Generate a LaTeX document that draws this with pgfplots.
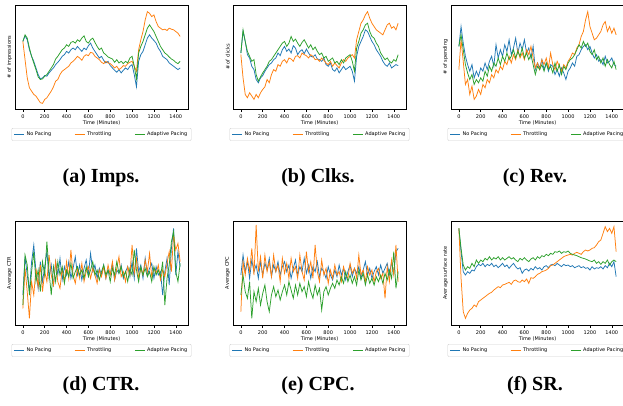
\documentclass[border=0pt]{standalone}
\usepackage{pgfplots}
\pgfplotsset{compat=1.18}
\usepackage{pgfplotstable}
\usepackage{fontspec}
\setmainfont{DejaVu Sans}
\newfontfamily\capfont{Liberation Serif}
\definecolor{tblue}{HTML}{1F77B4}
\definecolor{torange}{HTML}{FF7F0E}
\definecolor{tgreen}{HTML}{2CA02C}

\pgfplotstableread{
t np th ap
0 125 125 125
20 108 180 105
40 120 235 115
60 150 265 145
80 170 275 170
100 185 285 190
120 205 290 210
140 225 300 232
160 238 310 240
180 235 312 238
200 228 300 230
220 230 295 225
240 220 285 215
260 212 275 205
280 205 262 195
300 195 245 178
320 188 240 170
340 180 225 160
360 170 215 150
380 165 210 145
400 155 205 135
420 160 200 140
440 150 190 128
460 145 185 125
480 150 178 130
500 140 170 120
520 148 175 125
540 155 182 115
560 145 170 108
580 150 165 125
600 138 168 130
620 130 158 120
640 145 160 115
660 155 170 128
680 165 175 140
700 175 180 150
720 170 188 145
740 182 192 160
760 190 185 165
780 185 190 172
800 198 192 175
820 205 198 178
840 212 205 188
860 218 200 180
880 210 210 190
900 220 205 185
920 212 198 192
940 205 200 185
960 210 192 190
980 200 188 175
1000 195 185 170
1020 225 200 200
1040 262 215 238
1060 185 150 160
1080 165 120 140
1100 155 95 125
1120 135 60 105
1140 115 35 85
1160 105 40 75
1180 115 50 85
1200 122 45 95
1220 130 65 110
1240 145 80 125
1260 155 85 140
1280 170 90 150
1300 175 88 160
1320 180 92 165
1340 190 85 172
1360 195 88 178
1380 200 90 182
1400 205 95 188
1420 210 100 192
1440 205 110 185
}\tabA

\pgfplotstableread{
t np th ap
0 160 165 160
20 95 235 90
40 125 285 125
60 165 295 155
80 175 280 170
100 200 290 185
120 210 300 180
140 240 285 225
160 250 295 245
180 235 280 232
200 228 270 220
220 215 262 210
240 205 240 200
260 195 250 185
280 190 225 180
300 180 210 170
320 175 215 160
340 160 195 150
360 168 200 140
380 150 185 130
400 140 180 125
420 155 190 140
440 148 175 130
460 160 178 110
480 138 185 125
500 145 170 118
520 165 168 130
540 155 175 140
560 150 160 128
580 162 165 120
600 148 168 132
620 160 175 145
640 170 165 135
660 172 170 150
680 165 180 142
700 178 178 155
720 180 185 165
740 185 175 160
760 175 182 175
780 195 190 170
800 200 195 185
820 190 185 180
840 210 200 175
860 215 190 190
880 205 198 185
900 220 205 195
920 210 190 180
940 200 180 190
960 210 185 175
980 205 175 170
1000 200 170 165
1020 215 165 185
1040 245 175 215
1060 170 120 145
1080 140 95 125
1100 125 70 100
1120 110 60 90
1140 90 45 75
1160 95 35 70
1180 110 55 95
1200 125 70 110
1220 135 80 115
1240 150 90 130
1260 160 95 140
1280 170 100 160
1300 185 105 170
1320 195 90 180
1340 200 75 175
1360 190 70 185
1380 205 85 190
1400 200 80 180
1420 195 90 185
1440 198 70 165
}\tabB

\pgfplotstableread{
t np th ap
0 140 210 140
20 80 120 105
40 130 185 150
60 170 255 195
80 195 240 220
100 215 285 240
120 195 260 225
140 235 300 255
160 215 290 240
180 230 270 250
200 205 285 235
220 215 255 245
240 190 265 215
260 210 240 230
280 185 250 200
300 170 225 215
320 200 235 190
340 135 210 200
360 175 220 175
380 150 200 195
400 170 210 170
420 135 185 185
440 155 195 160
460 120 170 180
480 165 190 170
500 145 165 150
520 115 180 175
540 160 150 155
560 130 175 170
580 150 160 145
600 120 180 175
620 160 150 160
640 145 165 180
660 175 140 165
680 140 175 195
700 210 205 225
720 190 190 200
740 205 210 210
760 180 180 195
780 210 195 215
800 190 175 190
820 215 205 210
840 195 160 200
860 200 195 220
880 225 210 190
900 210 185 215
920 230 200 195
940 205 215 225
960 220 195 200
980 240 205 210
1000 215 185 190
1020 205 175 180
1040 190 160 175
1060 200 165 165
1080 170 145 150
1100 165 135 135
1120 150 110 145
1140 140 95 125
1160 135 60 140
1180 150 35 130
1200 140 80 155
1220 160 100 165
1240 175 120 150
1260 165 115 180
1280 185 105 170
1300 180 95 190
1320 195 75 175
1340 170 65 200
1360 190 95 180
1380 185 80 195
1400 175 100 205
1420 195 85 185
1440 200 105 210
}\tabC

\pgfplotstableread{
t np th ap
0 300 340 330
20 185 220 180
40 240 290 210
60 290 370 300
80 200 260 230
100 150 300 170
120 230 220 260
140 280 275 225
160 200 210 290
180 260 290 200
200 215 230 240
220 170 260 140
240 250 180 230
260 210 240 300
280 275 270 215
300 200 200 260
320 240 260 200
340 190 280 240
360 255 220 215
380 215 260 265
400 240 200 225
420 200 250 245
440 250 165 205
460 220 240 250
480 185 265 230
500 240 220 215
520 210 250 240
540 255 205 225
560 220 260 250
580 195 230 215
600 240 215 245
620 175 250 225
640 230 220 200
660 210 240 240
680 250 265 225
700 220 225 255
720 240 245 230
740 210 215 210
760 250 250 240
780 225 210 225
800 240 240 260
820 205 200 220
840 255 255 240
860 225 220 200
880 235 185 235
900 210 245 215
920 250 230 245
940 230 260 230
960 215 215 260
980 245 240 220
1000 200 150 240
1020 250 235 165
1040 160 190 225
1060 230 250 260
1080 210 220 215
1100 250 240 240
1120 190 195 220
1140 240 230 245
1160 220 175 230
1180 205 245 260
1200 250 220 215
1220 215 235 240
1240 240 210 225
1260 230 255 245
1280 300 225 200
1300 230 245 330
1320 190 205 250
1340 270 170 210
1360 160 230 140
1380 100 120 110
1400 240 165 230
1420 170 145 260
1440 215 200 205
}\tabD

\pgfplotstableread{
t np th ap
0 240 350 300
20 180 200 240
40 230 240 290
60 200 190 310
80 250 230 260
100 195 160 370
120 230 240 290
140 210 90 320
160 250 230 280
180 200 185 330
200 240 250 295
220 205 180 270
240 225 230 320
260 190 200 350
280 245 245 300
300 210 180 275
320 230 230 305
340 200 210 285
360 240 260 315
380 215 190 290
400 200 235 270
420 230 205 300
440 210 250 260
460 250 190 285
480 220 230 310
500 195 215 270
520 240 250 300
540 215 180 265
560 230 230 290
580 190 255 275
600 235 170 305
620 210 230 260
640 250 200 290
660 215 250 310
680 230 150 270
700 200 230 300
720 245 260 280
740 220 195 345
760 230 240 290
780 250 220 275
800 215 265 300
820 240 225 280
840 255 250 265
860 225 210 280
880 245 240 255
900 210 230 270
920 240 260 245
940 220 215 265
960 255 240 230
980 230 250 260
1000 210 205 240
1020 245 235 265
1040 220 220 245
1060 235 250 270
1080 215 180 225
1100 250 240 255
1120 225 225 235
1140 200 260 270
1160 240 215 240
1180 220 240 265
1200 250 225 250
1220 230 260 270
1240 215 230 245
1260 240 220 260
1280 210 250 240
1300 235 235 265
1320 220 310 235
1340 205 215 255
1360 240 260 225
1380 200 195 250
1400 235 240 170
1420 170 150 280
1440 160 260 230
}\tabE

\pgfplotstableread{
t np th ap
0 100 100 100
20 170 250 160
40 230 350 210
60 240 370 225
80 230 355 215
100 235 345 220
120 225 340 205
140 228 330 215
160 215 335 195
180 208 320 205
200 212 315 195
220 205 310 200
240 215 305 190
260 208 300 195
280 212 295 185
300 205 292 195
320 215 285 188
340 210 280 192
360 218 275 185
380 212 278 195
400 205 270 188
420 215 268 195
440 210 265 190
460 220 262 185
480 212 268 192
500 205 258 188
520 215 255 195
540 222 260 200
560 218 262 190
580 235 255 195
600 225 260 188
620 222 252 195
640 228 265 200
660 220 248 192
680 225 250 188
700 215 245 195
720 222 238 185
740 218 235 190
760 225 230 182
780 215 228 185
800 212 225 178
820 218 220 182
840 210 212 175
860 208 210 178
880 212 205 170
900 205 200 172
920 210 195 168
940 215 190 175
960 208 185 170
980 212 182 172
1000 210 180 168
1020 215 178 175
1040 212 180 178
1060 218 175 180
1080 215 172 182
1100 212 175 185
1120 218 178 188
1140 215 170 190
1160 220 165 192
1180 218 168 195
1200 225 165 198
1220 215 160 200
1240 222 158 195
1260 218 150 205
1280 220 140 200
1300 215 135 208
1320 222 115 200
1340 212 95 205
1360 218 110 195
1380 205 100 210
1400 215 115 200
1420 200 95 195
1440 245 170 200
}\tabF

\pgfplotsset{
  panel/.style={
    scale only axis, width=173pt, height=104pt,
    xmin=-72, xmax=1512,
    xtick={0,200,400,600,800,1000,1200,1400},
    ytick=\empty,
    y dir=reverse,
    /pgf/number format/assume math mode=true,
    /pgf/number format/1000 sep={},
    tick label style={font=\fontsize{5}{6}\selectfont},
    xlabel={Time (Minutes)},
    every axis x label/.style={at={(axis description cs:0.5,0)}, anchor=center, yshift=-13.5pt, font=\fontsize{5}{6}\selectfont},
    every axis y label/.style={at={(axis description cs:0,0.5)}, rotate=90, anchor=south, inner sep=0pt, yshift=3pt, font=\fontsize{5}{6}\selectfont},
    axis line style={line width=0.6pt},
    xtick align=outside, xtick pos=bottom, major tick length=2.5pt,
    tick style={black, line width=0.5pt},
    legend columns=3,
    legend style={at={(0.5,-0.183)}, anchor=north, draw=black!18, rounded corners=1pt,
      font=\fontsize{5}{6}\selectfont, inner xsep=2pt, inner ysep=1.5pt,
      /tikz/every even column/.append style={column sep=21pt}},
    legend image code/.code={\draw[##1, line width=0.8pt] (0pt,0pt) -- (10pt,0pt);},
    every axis plot/.append style={line width=0.75pt, mark=none},
  },
  toprow/.style={panel, ymin=15, ymax=329},
  botrow/.style={panel, ymin=78, ymax=390},
}

\newcommand{\threeplots}[1]{%
  \addplot[tblue] table[x=t, y=np] {#1};
  \addplot[torange] table[x=t, y=th] {#1};
  \addplot[tgreen] table[x=t, y=ap] {#1};
  \legend{No Pacing, Throttling, Adaptive Pacing}
}

\begin{document}
\begin{tikzpicture}
\fill[white] (0pt,0pt) rectangle (623pt,405pt);
\useasboundingbox (0pt,0pt) rectangle (623pt,405pt);

\begin{axis}[toprow, at={(15pt,296pt)}, anchor=south west, ylabel={\# of impressions}]
\threeplots{\tabA}
\end{axis}
\begin{axis}[toprow, at={(233pt,296pt)}, anchor=south west, ylabel={\# of clicks}]
\threeplots{\tabB}
\end{axis}
\begin{axis}[toprow, at={(451pt,296pt)}, anchor=south west, ylabel={\# of spending}]
\threeplots{\tabC}
\end{axis}

\begin{axis}[botrow, at={(15pt,80pt)}, anchor=south west, ylabel={Average CTR}]
\threeplots{\tabD}
\end{axis}
\begin{axis}[botrow, at={(233pt,80pt)}, anchor=south west, ylabel={Average CPC}]
\threeplots{\tabE}
\end{axis}
\begin{axis}[botrow, at={(451pt,80pt)}, anchor=south west, ylabel={Average surface rate}]
\threeplots{\tabF}
\end{axis}

\node[font=\capfont\bfseries\fontsize{20}{22}\selectfont] at (101pt,227pt) {(a) Imps.};
\node[font=\capfont\bfseries\fontsize{20}{22}\selectfont] at (318pt,227pt) {(b) Clks.};
\node[font=\capfont\bfseries\fontsize{20}{22}\selectfont] at (535pt,227pt) {(c) Rev.};
\node[font=\capfont\bfseries\fontsize{20}{22}\selectfont] at (101pt,19pt) {(d) CTR.};
\node[font=\capfont\bfseries\fontsize{20}{22}\selectfont] at (318pt,19pt) {(e) CPC.};
\node[font=\capfont\bfseries\fontsize{20}{22}\selectfont] at (535pt,19pt) {(f) SR.};
\end{tikzpicture}
\end{document}
